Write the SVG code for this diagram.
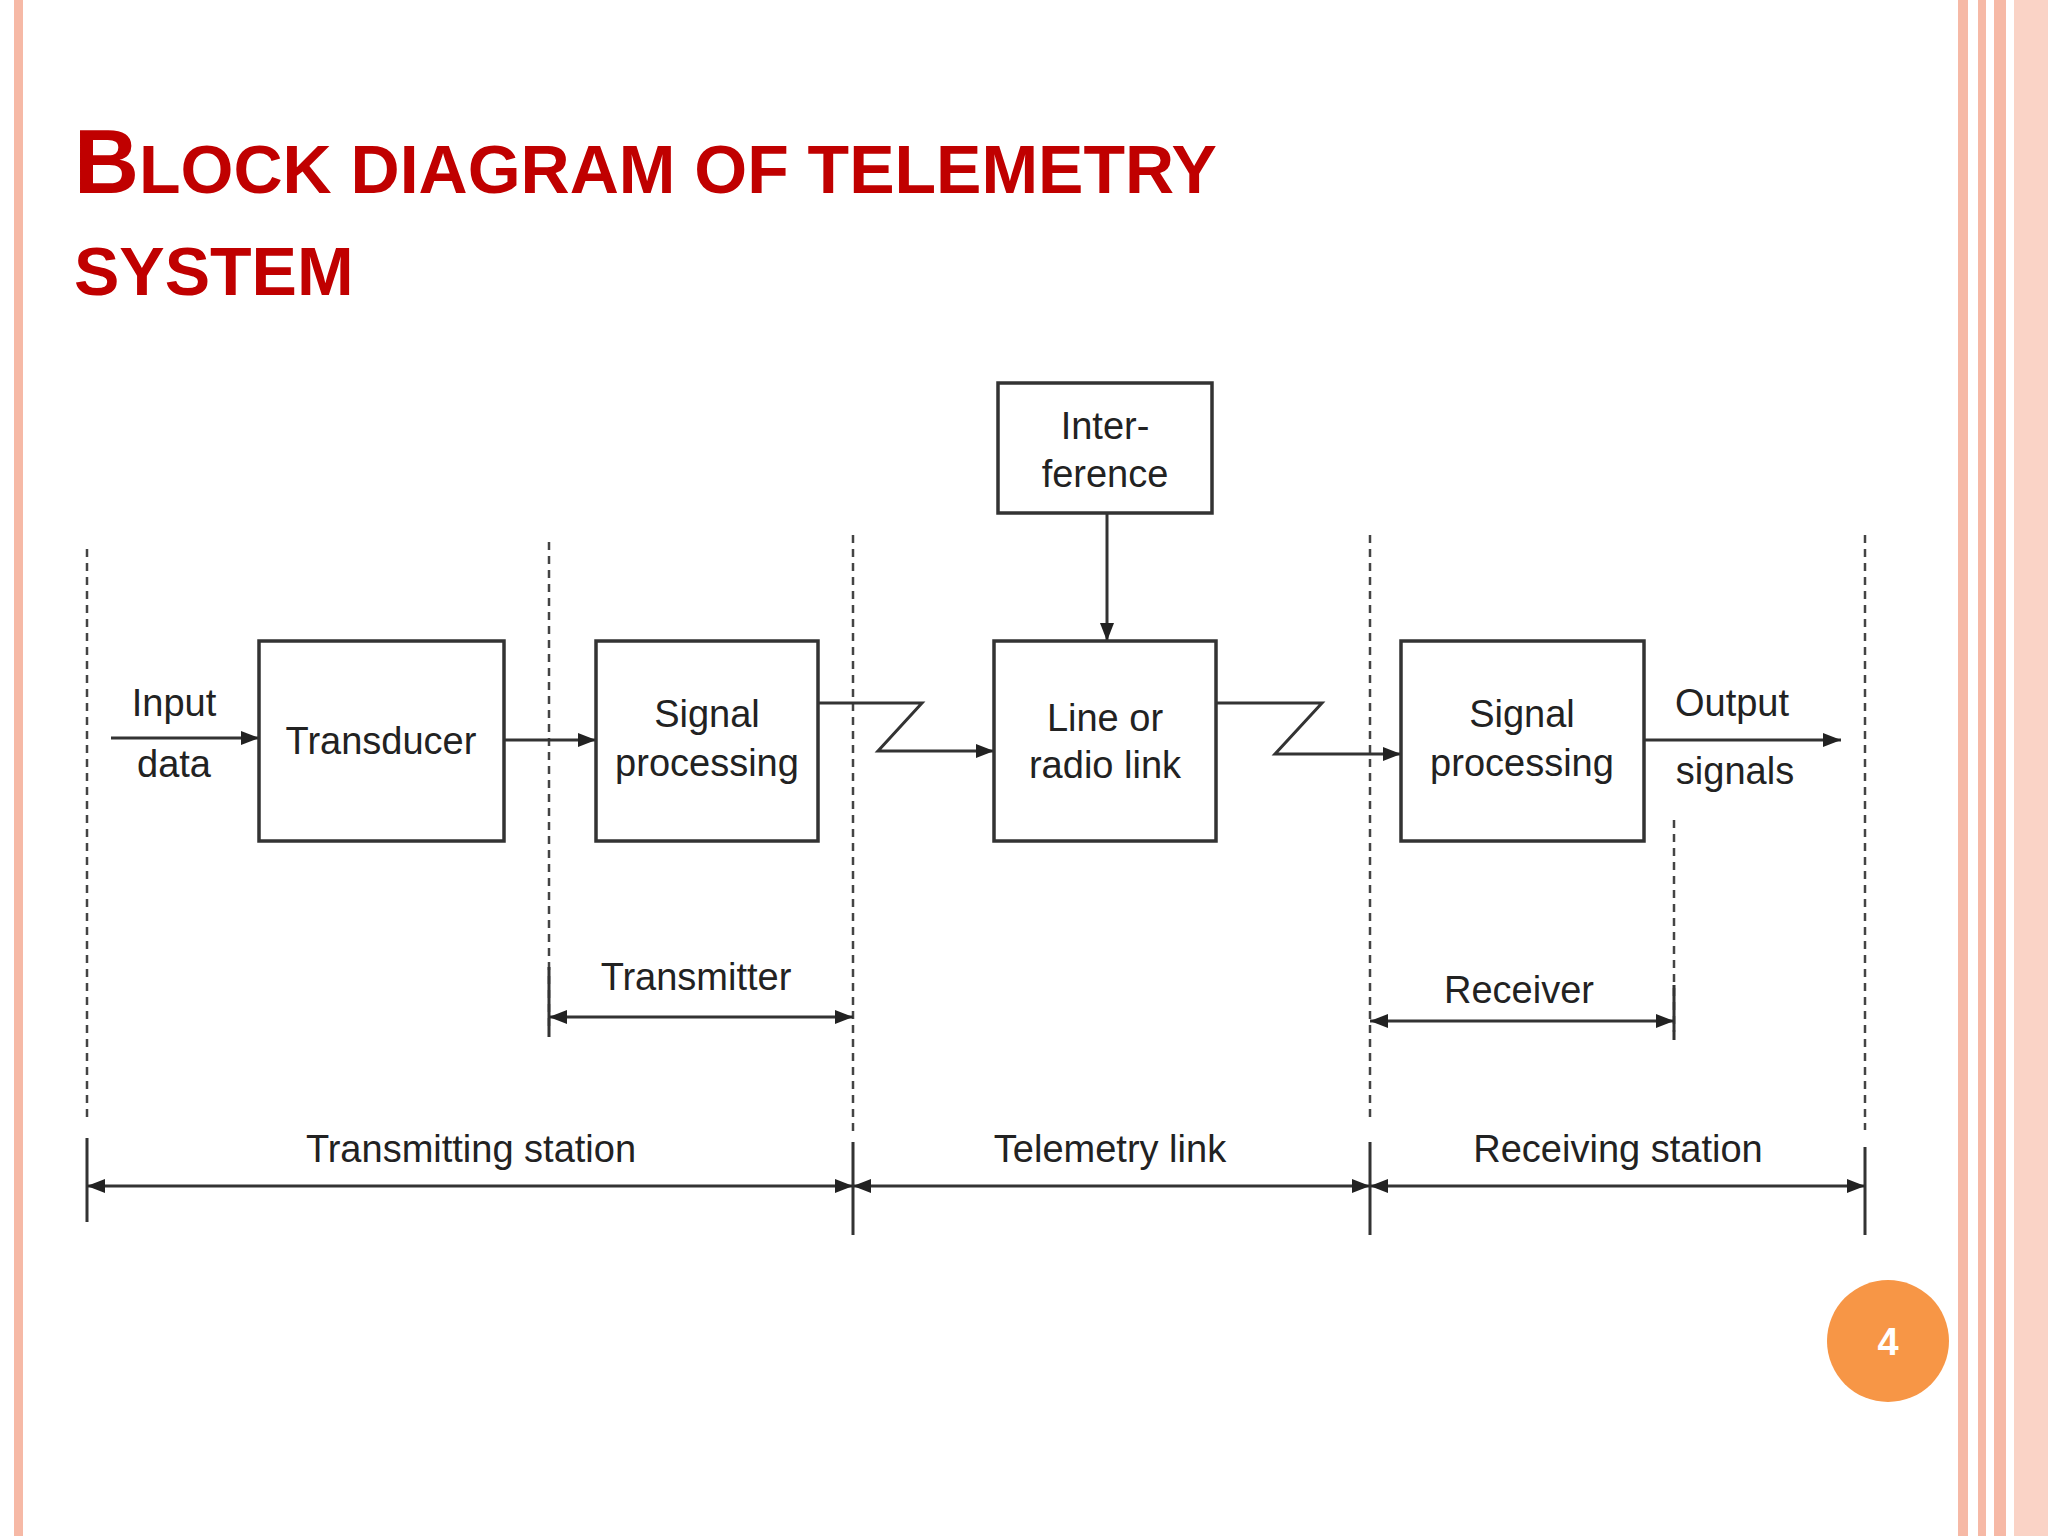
<svg xmlns="http://www.w3.org/2000/svg" width="2048" height="1536" viewBox="0 0 2048 1536">
<defs>
<marker id="ah" viewBox="0 0 10 10" refX="10" refY="5" markerWidth="18" markerHeight="14" orient="auto-start-reverse" markerUnits="userSpaceOnUse" preserveAspectRatio="none"><path d="M0,0 L10,5 L0,10 z" fill="#222"/></marker>
<style>
.box{fill:#fff;stroke:#333;stroke-width:3.5}
.ln{fill:none;stroke:#333;stroke-width:3}
.ar{fill:none;stroke:#333;stroke-width:3;marker-end:url(#ah)}
.dim{fill:none;stroke:#333;stroke-width:3;marker-start:url(#ah);marker-end:url(#ah)}
.ds{fill:none;stroke:#444;stroke-width:2.5;stroke-dasharray:8 6}
.t{font-family:"Liberation Sans",Arial,sans-serif;font-size:38px;fill:#222;text-anchor:middle}
.ti{font-family:"Liberation Sans",Arial,sans-serif;font-weight:bold;fill:#C00000}
</style>
</defs>
<rect width="2048" height="1536" fill="#fff"/>
<rect x="14" y="0" width="9" height="1536" fill="#F6B9A6"/>
<rect x="1958" y="0" width="10" height="1536" fill="#F6B9A6"/>
<rect x="1978" y="0" width="8" height="1536" fill="#F6B9A6"/>
<rect x="1994" y="0" width="12" height="1536" fill="#F6B9A6"/>
<rect x="2014" y="0" width="34" height="1536" fill="#FAD3C6"/>
<text class="ti" x="74" y="193" font-size="68"><tspan font-size="90">B</tspan>LOCK DIAGRAM OF TELEMETRY</text>
<text class="ti" x="74" y="295" font-size="68">SYSTEM</text>
<g id="connectors">
<path class="ds" d="M87 549V1123M549 542V1032M853 535V1136M1370 535V1123M1674 820V1032M1865 535V1130"/>
<path class="ar" d="M111 738H259"/>
<path class="ar" d="M504 740H596"/>
<path class="ar" d="M818 703H922L878 751H994"/>
<path class="ar" d="M1216 703H1322L1275 754H1401"/>
<path class="ar" d="M1644 740H1841"/>
<path class="ar" d="M1107 513V641"/>
<path class="ln" d="M549 967V1037M1674 985V1040M87 1138V1222M853 1142V1235M1370 1142V1235M1865 1147V1235"/>
<path class="dim" d="M549 1017H853"/>
<path class="dim" d="M1370 1021H1674"/>
<path class="dim" d="M87 1186H853"/>
<path class="dim" d="M853 1186H1370"/>
<path class="dim" d="M1370 1186H1865"/>
</g>
<g id="transducer"><rect class="box" x="259" y="641" width="245" height="200"/><text class="t" x="381" y="754">Transducer</text></g>
<g id="sp1"><rect class="box" x="596" y="641" width="222" height="200"/><text class="t" x="707" y="727">Signal</text><text class="t" x="707" y="776">processing</text></g>
<g id="interference"><rect class="box" x="998" y="383" width="214" height="130"/><text class="t" x="1105" y="439">Inter-</text><text class="t" x="1105" y="487">ference</text></g>
<g id="link"><rect class="box" x="994" y="641" width="222" height="200"/><text class="t" x="1105" y="731">Line or</text><text class="t" x="1105" y="778">radio link</text></g>
<g id="sp2"><rect class="box" x="1401" y="641" width="243" height="200"/><text class="t" x="1522" y="727">Signal</text><text class="t" x="1522" y="776">processing</text></g>
<g id="labels">
<text class="t" x="174" y="716">Input</text><text class="t" x="174" y="777">data</text>
<text class="t" x="1732" y="716">Output</text><text class="t" x="1735" y="784">signals</text>
<text class="t" x="696" y="990">Transmitter</text>
<text class="t" x="1519" y="1003">Receiver</text>
<text class="t" x="471" y="1162">Transmitting station</text>
<text class="t" x="1110" y="1162">Telemetry link</text>
<text class="t" x="1618" y="1162">Receiving station</text>
</g>
<circle cx="1888" cy="1341" r="61" fill="#F79646"/>
<text x="1888" y="1355" font-family="Liberation Sans,Arial,sans-serif" font-weight="bold" font-size="38" fill="#fff" text-anchor="middle">4</text>
</svg>
